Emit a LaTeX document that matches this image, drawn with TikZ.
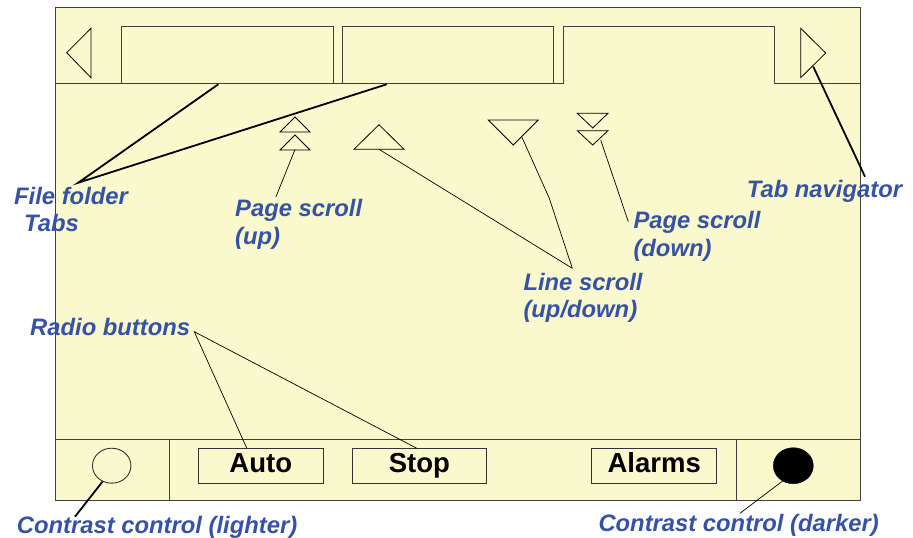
\documentclass[tikz,border=0pt]{standalone}
\usepackage{fontspec}
\setmainfont{Liberation Sans}
\usetikzlibrary{shapes.geometric}
\definecolor{panel}{HTML}{FAF8CD}
\definecolor{lblue}{HTML}{3552A6}
\begin{document}
\begin{tikzpicture}[x=1pt,y=-1pt,
  frame/.style={draw=black!75, line width=0.9pt},
  tri/.style={draw=black, line width=0.8pt, line join=miter},
  lbl/.style={text=lblue, font=\fontsize{23.8}{27}\selectfont\bfseries\itshape, anchor=base west, inner sep=0pt},
  btn/.style={draw=black!80, line width=0.9pt, fill=panel, minimum width=125pt, minimum height=34.6pt, inner sep=0pt, text height=19.4pt, text depth=6pt, font=\fontsize{27.5}{30}\selectfont\bfseries},
  thin/.style={draw=black, line width=0.7pt},
  thick/.style={draw=black, line width=1.8pt}]
\useasboundingbox (0,0) rectangle (913,538);
% main panel
\fill[panel] (55,7) rectangle (860.5,500);
\draw[frame] (55,7) rectangle (860.5,500);
% tabs
\draw[frame] (121.7,83) -- (121.7,26) -- (333,26) -- (333,83);
\draw[frame] (342,83) -- (342,26) -- (553.7,26) -- (553.7,83);
\draw[frame] (55,83) -- (563,83) -- (563,26) -- (774.5,26) -- (774.5,83) -- (860.5,83);
% tab navigators
\draw[tri] (66.7,52.7) -- (91,28.3) -- (91,77.7) -- cycle;
\draw[tri] (800.7,28.3) -- (825.7,53) -- (800.7,77.7) -- cycle;
% page scroll up
\draw[tri] (295,117) -- (310,132) -- (280,132) -- cycle;
\draw[tri] (295,135) -- (310,150) -- (280,150) -- cycle;
% line scroll up/down
\draw[tri] (379,124.7) -- (404,149.3) -- (354,149.3) -- cycle;
\draw[tri] (488.3,120) -- (538.3,120) -- (513.3,145) -- cycle;
% page scroll down
\draw[tri] (577.3,113.3) -- (608,113.3) -- (592.7,128) -- cycle;
\draw[tri] (577.3,130.7) -- (608,130.7) -- (592.7,145) -- cycle;
% bottom bar
\draw[frame] (55,439.3) -- (860.5,439.3);
\draw[frame] (169.3,439.3) -- (169.3,500);
\draw[frame] (736,439.3) -- (736,500);
\node[draw=black!80, line width=0.9pt, ellipse, minimum width=38.5pt, minimum height=35pt, inner sep=0pt] (lighter) at (111.7,465.7) {};
\node[draw=black, fill=black, ellipse, minimum width=40pt, minimum height=36pt, inner sep=0pt] (darker) at (793.3,465.7) {};
\node[btn] (auto) at (260.8,466) {Auto};
\node[btn, minimum width=134.7pt] (stop) at (419.3,466) {Stop};
\node[btn] (alarms) at (654.2,466) {Alarms};
% labels
\node[lbl] (ff1) at (14,204) {File folder};
\node[lbl] (ff2) at (24,231.7) {Tabs};
\node[lbl] (psu1) at (235,216.7) {Page scroll};
\node[lbl] (psu2) at (235,244.5) {(up)};
\node[lbl] (psd1) at (633.3,228.3) {Page scroll};
\node[lbl] (psd2) at (633.3,256) {(down)};
\node[lbl] (ls1) at (523.3,290) {Line scroll};
\node[lbl] (ls2) at (523.3,317.5) {(up/down)};
\node[lbl] (tn) at (746.7,197.7) {Tab navigator};
\node[lbl] (rb) at (30,335.7) {Radio buttons};
\node[lbl] (ccl) at (16.7,533.5) {Contrast control (lighter)};
\node[lbl] (ccd) at (598.3,531.5) {Contrast control (darker)};
% leader coordinates
\coordinate (ffp) at (78.3,182.7);
\coordinate (tab1) at (218.3,84.3);
\coordinate (tab2) at (386.7,84.3);
\coordinate (psuA) at (295,149.5);
\coordinate (psuB) at (276,196.7);
\coordinate (lsuA) at (379,149.3);
\coordinate (lsdA) at (521.7,136.7);
\coordinate (lsK) at (549.3,198.3);
\coordinate (lsP) at (572.3,268.3);
\coordinate (psdA) at (600.7,140);
\coordinate (psdB) at (628.3,221.7);
\coordinate (tnA) at (813.3,66.7);
\coordinate (tnB) at (865,176.7);
\coordinate (rbP) at (194.3,331.7);
\coordinate (cclB) at (75,516.7);
\coordinate (ccdB) at (740,513.3);
\path (auto.north) ++(-14,0) coordinate (autoTop);
\path (stop.north) ++(-2.6,0) coordinate (stopTop);
% leaders
\draw[thick] (tab1) -- (ffp) -- (tab2);
\draw[thin] (psuA) -- (psuB);
\draw[thin] (lsuA) -- (lsP);
\draw[thin] (lsdA) -- (lsK) -- (lsP);
\draw[thin] (psdA) -- (psdB);
\draw[thick] (tnA) -- (tnB);
\draw[thin] (autoTop) -- (rbP) -- (stopTop);
\draw[thick] (lighter.-120) -- (cclB);
\draw[thin] (darker.-125) -- (ccdB);
\end{tikzpicture}
\end{document}
